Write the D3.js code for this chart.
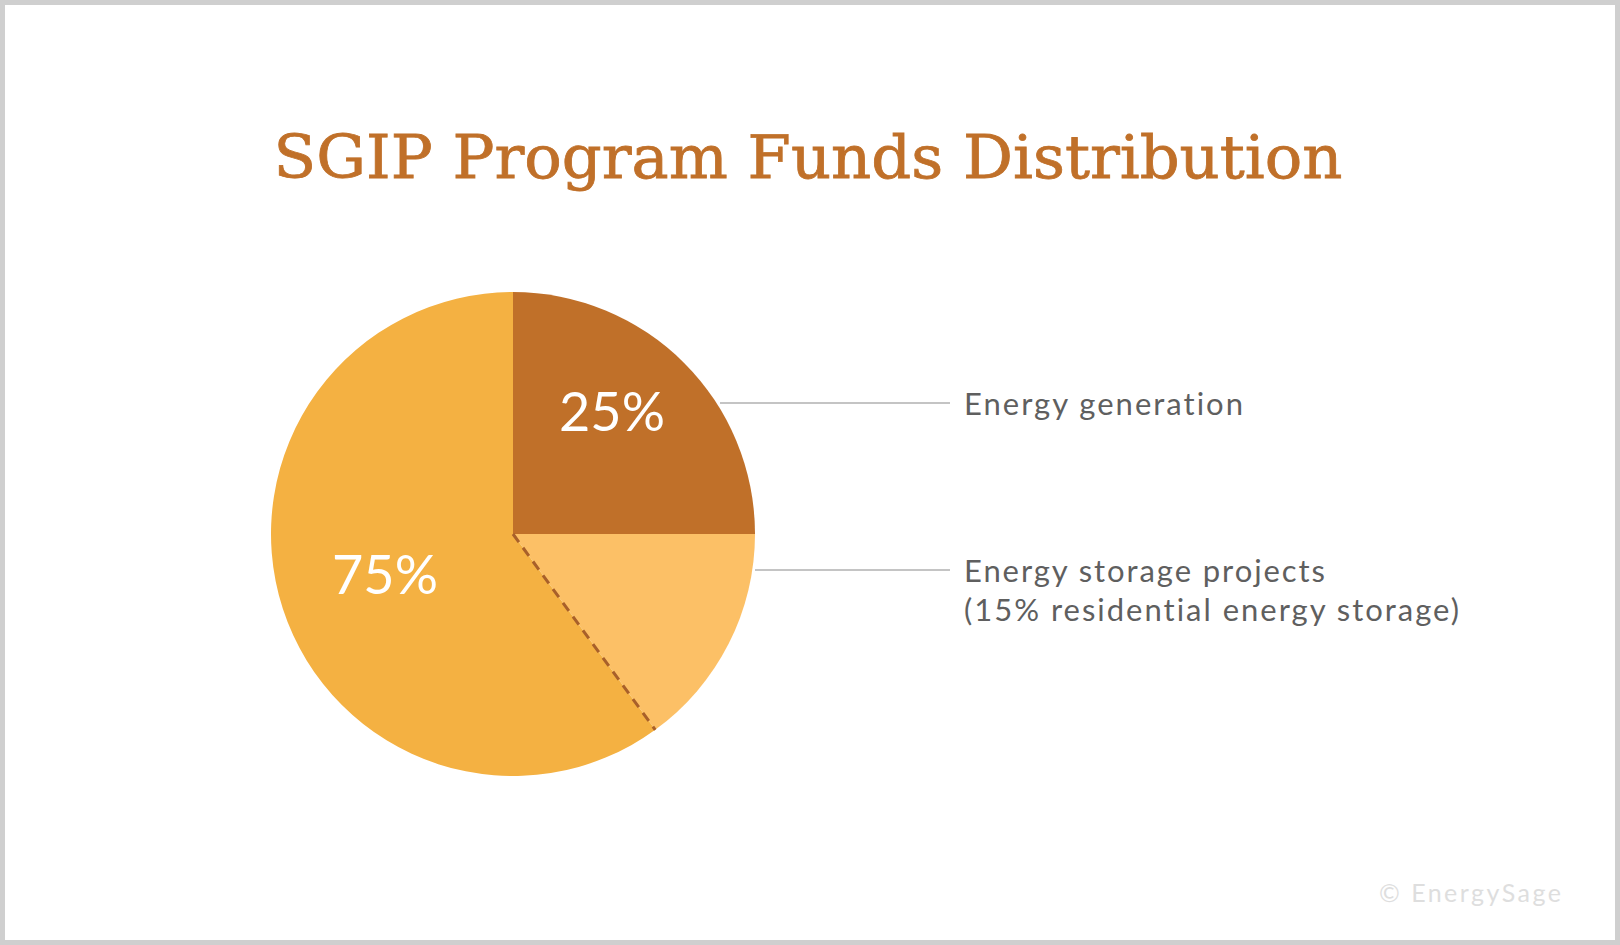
<!DOCTYPE html>
<html><head><meta charset="utf-8">
<script src="https://cdn.jsdelivr.net/npm/d3@7"></script>
<style>body{margin:0;background:#fff} text{font-variant-ligatures:none;font-feature-settings:"liga" 0,"dlig" 0}</style>
</head><body><div id="chart"></div>
<script>
// data
const categories = ['Energy generation', 'Residential energy storage', 'Other energy storage'];
const shares = [25, 15, 60];
const sliceLabels = ['25%', '', '75%'];
const colors = ['#c07029', '#fcc066', '#f4b142'];
const legendLines = [['Energy generation'], ['Energy storage projects', '(15% residential energy storage)']];
const legendWidths = [[279], [361, 495]];

const W = 1620, H = 945;
const svg = d3.select('#chart').append('svg').attr('width', W).attr('height', H);

svg.append('rect').attr('x', 2.5).attr('y', 2.5).attr('width', W - 5).attr('height', H - 5)
  .attr('fill', '#fff').attr('stroke', '#cfcfcf').attr('stroke-width', 5);

svg.append('text').attr('x', 808).attr('y', 178).attr('text-anchor', 'middle')
  .attr('font-family', 'DejaVu Serif').attr('font-size', 60).attr('fill', '#c07029')
  .attr('stroke', '#c07029').attr('stroke-width', 0.8)
  .attr('textLength', 1069).attr('lengthAdjust', 'spacingAndGlyphs')
  .text('SGIP Program Funds Distribution');

const cx = 513, cy = 534, r = 242;
const g = svg.append('g').attr('transform', `translate(${cx},${cy})`);
const pie = d3.pie().sort(null)(shares);
const arc = d3.arc().innerRadius(0).outerRadius(r);

g.selectAll('path').data(pie).join('path').attr('d', arc).attr('fill', (d, i) => colors[i]);

// dashed divider at end of residential slice
const a = pie[1].endAngle;
g.append('line').attr('x1', 0).attr('y1', 0)
  .attr('x2', r * Math.sin(a)).attr('y2', -r * Math.cos(a))
  .attr('stroke', '#a8602a').attr('stroke-width', 3).attr('stroke-dasharray', '10,7');

// percent labels
const labelPos = [[99, -122], null, [-128, 41]];
pie.forEach((d, i) => {
  if (!sliceLabels[i]) return;
  g.append('text').attr('x', labelPos[i][0]).attr('y', labelPos[i][1]).attr('dy', '0.35em')
    .attr('text-anchor', 'middle').attr('font-family', 'Lato').attr('font-size', 54)
    .attr('fill', '#fff').text(sliceLabels[i]);
});

// leader lines + legend text
const leaders = [{x1: 720, y: 403}, {x1: 755, y: 570}];
leaders.forEach((l, i) => {
  svg.append('line').attr('x1', l.x1).attr('x2', 950).attr('y1', l.y).attr('y2', l.y)
    .attr('stroke', '#c4c4c4').attr('stroke-width', 2);
  legendLines[i].forEach((t, j) => {
    svg.append('text').attr('x', 964).attr('y', l.y + 12 + j * 39)
      .attr('font-family', 'Lato').attr('font-size', 31).attr('fill', '#5f5f5f')
      .attr('textLength', legendWidths[i][j]).attr('lengthAdjust', 'spacing').text(t);
  });
});

svg.append('text').attr('x', 1561).attr('y', 902).attr('text-anchor', 'end')
  .attr('font-family', 'Lato').attr('font-size', 25).attr('fill', '#dedede')
  .attr('textLength', 182).attr('lengthAdjust', 'spacing')
  .text('© EnergySage');
</script></body></html>
